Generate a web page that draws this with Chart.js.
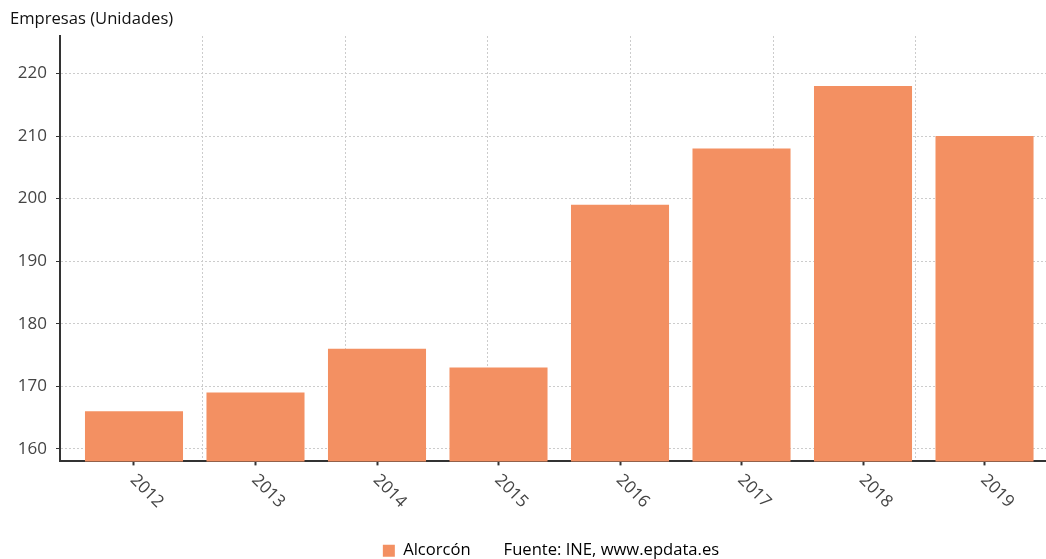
<!DOCTYPE html>
<html>
<head>
<meta charset="utf-8">
<script src="https://cdn.jsdelivr.net/npm/chart.js@4.4.1/dist/chart.umd.min.js"></script>
<style>
  html, body { margin: 0; padding: 0; background: #ffffff; }
  #wrap { width: 1046px; height: 559px; position: relative; }
</style>
</head>
<body>
<div id="wrap"><canvas id="c"></canvas></div>
<script>
// ---- data ----
const categories = ['2012', '2013', '2014', '2015', '2016', '2017', '2018', '2019'];
const empresas = [166, 169, 176, 173, 199, 208, 218, 210];
const seriesName = 'Alcorcón';
const yTitle = 'Empresas (Unidades)';
const sourceText = 'Fuente: INE, www.epdata.es';
const yMin = 158, yMax = 226, yStep = 10;

const barColor = '#f39062';
const FONT = "'Open Sans', 'Noto Sans', sans-serif";
Chart.defaults.font.family = FONT;

const rotatedLabels = {
  id: 'rotatedLabels',
  afterLayout(chart) {
    chart.legend.left += 23;
    chart.legend.right += 23;
    chart.legend.top += 10;
    chart.legend.bottom += 10;
  },
  afterDraw(chart) {
    const xs = chart.scales.x;
    const ctx = chart.ctx;
    ctx.save();
    ctx.font = '17px ' + FONT;
    ctx.fillStyle = '#444444';
    ctx.textAlign = 'left';
    ctx.textBaseline = 'middle';
    categories.forEach((lab, i) => {
      const px = xs.getPixelForValue(i);
      ctx.save();
      ctx.translate(px - 1, chart.chartArea.bottom + 16);
      ctx.rotate(Math.PI / 4);
      ctx.fillText(lab, 0, 0);
      ctx.restore();
    });
    ctx.restore();
  }
};

new Chart(document.getElementById('c'), {
  type: 'bar',
  data: {
    datasets: [{
      label: seriesName,
      data: empresas.map((v, i) => ({ x: i, y: v })),
      backgroundColor: barColor,
      borderWidth: 0,
      categoryPercentage: 1,
      barPercentage: 0.807
    }]
  },
  options: {
    responsive: true,
    maintainAspectRatio: false,
    animation: false,
    layout: { padding: { left: 10, right: 0, top: 0, bottom: 0 } },
    plugins: {
      title: {
        display: true,
        text: yTitle,
        align: 'start',
        color: '#111111',
        font: { size: 16.6, weight: 'normal', family: FONT },
        padding: { top: 9, bottom: 7 }
      },
      legend: {
        position: 'bottom',
        onClick: null,
        labels: {
          boxWidth: 12,
          boxHeight: 12,
          padding: 4,
          color: '#333333',
          font: { size: 16.6, family: FONT },
          generateLabels() {
            return [
              { text: seriesName, fillStyle: barColor, strokeStyle: barColor, lineWidth: 0, hidden: false, datasetIndex: 0 },
              { text: '  ' + sourceText, fillStyle: 'rgba(0,0,0,0)', strokeStyle: 'rgba(0,0,0,0)', lineWidth: 0, hidden: false }
            ];
          }
        }
      },
      tooltip: { enabled: false }
    },
    scales: {
      x: {
        type: 'linear',
        position: 'bottom',
        offset: false,
        min: -0.609,
        max: 7.506,
        afterFit(s) { s.height = 67; },
        ticks: { display: false, stepSize: 1, includeBounds: false },
        grid: { offset: false, drawOnChartArea: false, drawTicks: true, tickLength: 4, tickColor: '#333333', tickWidth: 2 },
        border: { display: true, color: '#333333', width: 2 }
      },
      xg: {
        type: 'linear',
        position: 'top',
        offset: false,
        min: 0,
        max: 6.914,
        afterFit(s) { s.height = 0; },
        ticks: { display: false, stepSize: 1, includeBounds: false },
        grid: { offset: false, color: '#cccccc', lineWidth: 1, drawTicks: false },
        border: { display: false, dash: [2, 2] }
      },
      y: {
        min: yMin,
        max: yMax,
        afterFit(s) { s.width = 50; },
        ticks: { stepSize: yStep, includeBounds: false, color: '#444444', font: { size: 17, family: FONT }, padding: 9 },
        grid: { color: '#cccccc', lineWidth: 1, tickLength: 4, tickColor: '#333333', tickWidth: 1, tickBorderDash: [] },
        border: { display: true, color: '#333333', width: 2, dash: [2, 2] }
      }
    }
  },
  plugins: [rotatedLabels]
});
</script>
</body>
</html>
